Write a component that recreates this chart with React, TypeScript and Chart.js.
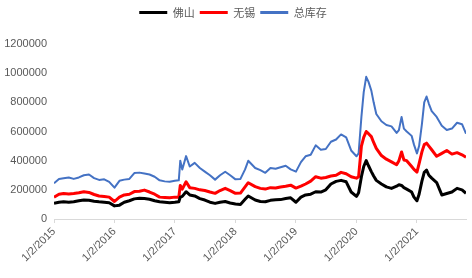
import { useEffect, useRef } from "react";
import { Chart, registerables } from "chart.js";

Chart.register(...registerables);

// ---- data ----
const dates = [
  "2015-01-02", "2015-02-01", "2015-03-01", "2015-04-01", "2015-05-01", "2015-06-01",
  "2015-07-01", "2015-08-01", "2015-09-01", "2015-10-01", "2015-11-01", "2015-12-01",
  "2016-01-02", "2016-02-01", "2016-03-01", "2016-04-01", "2016-05-01", "2016-06-01",
  "2016-07-01", "2016-08-01", "2016-09-01", "2016-10-01", "2016-11-01", "2016-12-01",
  "2017-01-01", "2017-01-25", "2017-02-03", "2017-02-15", "2017-03-10", "2017-04-01",
  "2017-05-01", "2017-06-01", "2017-07-01", "2017-08-01", "2017-09-01", "2017-10-01",
  "2017-11-01", "2017-12-01",
  "2018-01-02", "2018-02-01", "2018-03-01", "2018-03-20", "2018-05-01", "2018-06-01",
  "2018-07-01", "2018-08-01", "2018-09-01", "2018-10-01", "2018-11-01", "2018-12-01",
  "2019-01-02", "2019-02-01", "2019-03-01", "2019-04-01", "2019-05-01", "2019-06-01",
  "2019-07-01", "2019-08-01", "2019-09-01", "2019-10-01", "2019-11-01", "2019-12-01",
  "2020-01-02", "2020-01-15", "2020-02-01", "2020-02-15", "2020-03-01", "2020-03-15",
  "2020-04-01", "2020-04-15", "2020-05-01", "2020-06-01", "2020-07-01", "2020-08-01",
  "2020-09-01", "2020-09-15", "2020-10-01", "2020-10-15", "2020-11-01", "2020-12-01",
  "2020-12-15",
  "2021-01-02", "2021-01-15", "2021-02-01", "2021-02-15", "2021-03-01", "2021-03-15",
  "2021-04-01", "2021-05-01", "2021-06-01", "2021-07-01", "2021-08-01", "2021-09-01",
  "2021-10-01", "2021-10-25",
];

// 佛山
const foshan = [
  108000, 115000, 118000, 115000, 118000, 125000, 130000, 128000, 122000, 118000, 115000, 112000,
  90000, 95000, 115000, 125000, 138000, 142000, 140000, 135000, 125000, 118000, 115000, 112000,
  115000, 118000, 150000, 155000, 187000, 165000, 158000, 140000, 130000, 115000, 107000, 115000,
  120000, 110000,
  103000, 100000, 135000, 158000, 130000, 120000, 118000, 128000, 132000, 133000, 140000, 145000,
  115000, 150000, 165000, 170000, 187000, 185000, 200000, 240000, 258000, 265000, 255000, 185000,
  155000, 180000, 290000, 360000, 400000, 365000, 325000, 295000, 265000, 240000, 220000, 210000,
  225000, 235000, 230000, 215000, 205000, 185000, 150000,
  125000, 170000, 260000, 320000, 335000, 300000, 280000, 250000, 165000, 175000, 185000, 210000,
  200000, 176000,
];

// 无锡
const wuxi = [
  150000, 170000, 175000, 172000, 175000, 180000, 187000, 182000, 168000, 158000, 155000, 150000,
  120000, 150000, 165000, 170000, 188000, 190000, 198000, 185000, 170000, 150000, 148000, 145000,
  150000, 150000, 230000, 205000, 255000, 215000, 210000, 200000, 195000, 185000, 176000, 195000,
  210000, 195000,
  176000, 178000, 220000, 249000, 222000, 210000, 205000, 215000, 212000, 220000, 225000, 232000,
  212000, 225000, 240000, 260000, 290000, 280000, 285000, 295000, 300000, 320000, 310000, 290000,
  280000, 290000, 500000, 560000, 600000, 585000, 565000, 525000, 485000, 435000, 410000, 392000,
  372000, 400000, 460000, 405000, 400000, 360000, 340000,
  322000, 380000, 460000, 510000, 520000, 500000, 475000, 430000, 450000, 470000, 445000, 455000,
  440000, 423000,
];

// 总库存
const total = [
  245000, 275000, 280000, 285000, 275000, 285000, 300000, 305000, 280000, 268000, 272000, 255000,
  215000, 262000, 270000, 275000, 315000, 318000, 312000, 305000, 290000, 265000, 258000, 255000,
  262000, 265000, 400000, 340000, 431000, 360000, 385000, 350000, 325000, 300000, 270000, 300000,
  324000, 300000,
  272000, 275000, 340000, 399000, 350000, 335000, 317000, 350000, 345000, 355000, 365000, 340000,
  325000, 390000, 430000, 440000, 505000, 475000, 480000, 530000, 545000, 580000, 560000, 470000,
  430000, 450000, 700000, 870000, 975000, 940000, 880000, 800000, 720000, 670000, 645000, 635000,
  590000, 610000, 700000, 620000, 600000, 570000, 510000,
  450000, 500000, 650000, 800000, 840000, 790000, 740000, 700000, 640000, 610000, 620000, 660000,
  650000, 585000,
];

const seriesNames = ["佛山", "无锡", "总库存"];
const seriesColors = ["#000000", "#ff0000", "#4472c4"];
const tickYears = [2015, 2016, 2017, 2018, 2019, 2020, 2021];
const yTicks = [0, 200000, 400000, 600000, 800000, 1000000, 1200000];

function toYear(d: string): number {
  const [y, m, dd] = d.split("-").map(Number);
  const start = Date.UTC(y, 0, 1);
  const end = Date.UTC(y + 1, 0, 1);
  return y + (Date.UTC(y, m - 1, dd) - start) / (end - start);
}

const legendGap = {
  id: "legendGap",
  beforeInit(chart: any) {
    const legend = chart.legend;
    if (!legend) return;
    const orig = legend.fit;
    legend.fit = function fit() {
      orig.call(this);
      this.height += 16;
    };
  },
};

export default function App() {
  const ref = useRef<HTMLCanvasElement | null>(null);

  useEffect(() => {
    if (!ref.current) return;
    const xs = dates.map(toYear);
    const mk = (vals: number[]) => vals.map((v, i) => ({ x: xs[i], y: v }));
    const seriesData = [foshan, wuxi, total];
    const widths = [3, 3, 2];
    const tickFont = { family: "'Liberation Sans', Arial, sans-serif", size: 11 };

    const chart = new Chart(ref.current, {
      type: "line",
      data: {
        datasets: seriesNames.map((name, i) => ({
          label: name,
          data: mk(seriesData[i]),
          borderColor: seriesColors[i],
          backgroundColor: seriesColors[i],
          borderWidth: widths[i],
          pointRadius: 0,
          tension: 0,
          fill: false,
          borderJoinStyle: "round" as const,
        })),
      },
      options: {
        animation: false,
        responsive: false,
        layout: { padding: { top: 2, right: 6, left: 0, bottom: 0 } },
        plugins: {
          tooltip: { enabled: false },
          legend: {
            position: "top",
            labels: {
              boxWidth: 28,
              boxHeight: 3,
              padding: 5,
              color: "#595959",
              font: { family: "'Noto Sans CJK SC', sans-serif", size: 11 },
              generateLabels: (c: any) =>
                (Chart.defaults.plugins.legend.labels as any)
                  .generateLabels(c)
                  .map((l: any) => ({ ...l, lineWidth: 0, fillStyle: l.strokeStyle })),
            },
          },
        },
        scales: {
          x: {
            type: "linear",
            min: toYear(dates[0]),
            max: toYear(dates[dates.length - 1]),
            afterBuildTicks: (axis: any) => {
              axis.ticks = tickYears.map((y) => ({ value: toYear(`${y}-01-02`) }));
            },
            afterFit: (s: any) => {
              s.height = 59;
            },
            ticks: {
              minRotation: 45,
              maxRotation: 45,
              padding: 2,
              color: "#595959",
              font: tickFont,
              callback: (_v: any, i: number) => `1/2/${tickYears[i]}`,
            },
            grid: {
              display: true,
              drawOnChartArea: false,
              drawTicks: true,
              tickLength: 4,
              color: "#d9d9d9",
            },
            border: { display: true, color: "#d9d9d9", width: 1 },
          },
          y: {
            min: 0,
            max: 1200000,
            afterBuildTicks: (axis: any) => {
              axis.ticks = yTicks.map((v) => ({ value: v }));
            },
            afterFit: (s: any) => {
              s.width = 54;
            },
            ticks: {
              padding: 7,
              color: "#595959",
              font: tickFont,
              callback: (v: any) => String(v),
            },
            grid: { display: false, drawTicks: false },
            border: { display: false },
          },
        },
      },
      plugins: [legendGap],
    } as any);

    return () => chart.destroy();
  }, []);

  return (
    <div style={{ position: "absolute", left: 0, top: 0, width: 472, height: 278, background: "#fff" }}>
      <canvas ref={ref} width={472} height={278} />
    </div>
  );
}
